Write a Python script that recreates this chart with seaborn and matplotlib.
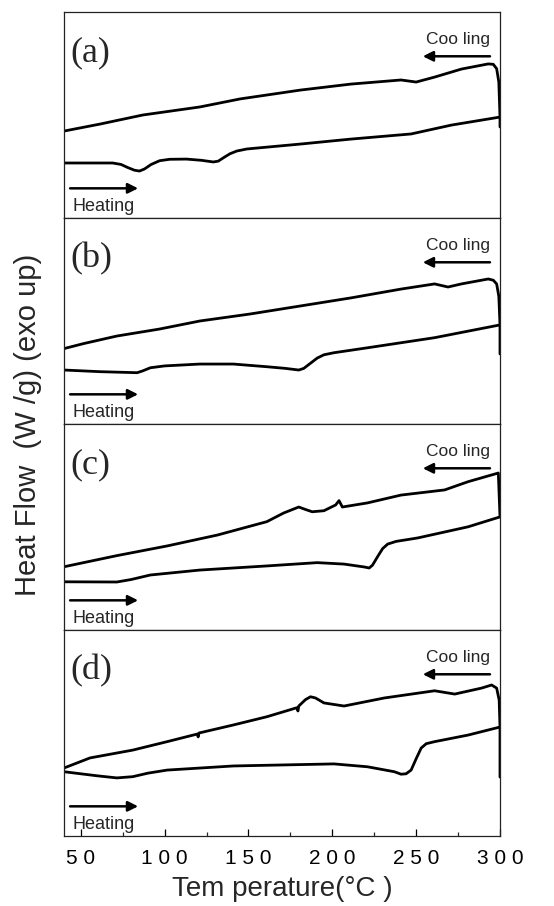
import numpy as np
import pandas as pd
import matplotlib
matplotlib.use("Agg")
import matplotlib.pyplot as plt
import seaborn as sns

# ---------------- data (heat flow, arbitrary units) ----------------
panel_labels = ["(a)", "(b)", "(c)", "(d)"]

# (a)
a_heat_T = [40, 69, 74, 78, 82, 85, 88, 92, 97, 103, 113, 122, 129, 132, 135, 139, 143, 149, 181, 211, 247, 271, 300, 300]
a_heat_v = [2.67, 2.67, 2.60, 2.45, 2.32, 2.28, 2.38, 2.60, 2.78, 2.85, 2.86, 2.80, 2.72, 2.76, 2.92, 3.12, 3.25, 3.35,
            3.59, 3.83, 4.08, 4.51, 4.90, 4.42]
a_cool_T = [300, 299.3, 298, 296, 293, 277, 261, 250, 241, 211, 181, 145, 121, 87, 61.5, 40]
a_cool_v = [4.90, 6.60, 7.25, 7.46, 7.48, 7.23, 6.84, 6.60, 6.70, 6.50, 6.21, 5.78, 5.39, 5.00, 4.56, 4.22]

# (b)
b_heat_T = [40, 61.5, 83.6, 87, 91.5, 100, 121, 141, 161, 172, 180, 183, 187, 191, 195, 201, 221, 261, 300, 300]
b_heat_v = [2.62, 2.54, 2.49, 2.58, 2.73, 2.82, 2.91, 2.91, 2.78, 2.70, 2.62, 2.70, 2.95, 3.20, 3.36, 3.46, 3.70, 4.19,
            4.81, 3.40]
b_cool_T = [300, 299.3, 298, 296, 293, 277, 269, 261, 241, 211, 181, 151, 121, 97, 71.5, 51.5, 40]
b_cool_v = [4.81, 6.20, 6.80, 6.98, 7.04, 6.80, 6.65, 6.80, 6.55, 6.12, 5.73, 5.34, 5.00, 4.61, 4.27, 3.90, 3.66]

# (c)
c_heat_T = [40, 71.5, 80, 91.5, 121, 161, 191, 207, 219, 222, 224, 227, 230, 233, 238, 251, 281, 300]
c_heat_v = [2.34, 2.33, 2.45, 2.67, 2.91, 3.11, 3.27, 3.20, 3.06, 3.01, 3.15, 3.56, 3.95, 4.17, 4.30, 4.47, 5.01, 5.49]
c_cool_T = [300, 299, 281, 267, 241, 221, 206, 204, 202, 195, 188, 184, 180, 171, 161, 131.5, 101.5, 71.5, 40]
c_cool_v = [5.49, 7.62, 7.20, 6.80, 6.55, 6.17, 5.97, 6.28, 6.07, 5.79, 5.74, 5.85, 5.97, 5.68, 5.26, 4.61, 4.08,
            3.61, 3.07]

# (d)
d_heat_T = [40, 60, 71.5, 81, 90, 101.5, 141, 201, 221, 237, 241, 244, 247, 250, 253, 256, 261, 281, 300, 300]
d_heat_v = [3.12, 2.92, 2.82, 2.88, 3.05, 3.20, 3.40, 3.50, 3.36, 3.12, 3.00, 3.02, 3.20, 3.75, 4.27, 4.48, 4.58,
            4.90, 5.29, 2.86]
d_cool_T = [300, 299.5, 298, 295, 289, 273, 261, 231, 207, 195, 190, 187, 184, 180, 179.5, 179, 161, 141,
            120.5, 120, 119.5, 101.5, 81, 55.5, 40]
d_cool_v = [5.29, 6.60, 7.18, 7.33, 7.18, 6.89, 7.05, 6.70, 6.31, 6.46, 6.70, 6.76, 6.62, 6.31, 6.07, 6.23, 5.79,
            5.39, 5.00, 4.81, 4.95, 4.58, 4.17, 3.79, 3.30]

heating = [(a_heat_T, a_heat_v), (b_heat_T, b_heat_v), (c_heat_T, c_heat_v), (d_heat_T, d_heat_v)]
cooling = [(a_cool_T, a_cool_v), (b_cool_T, b_cool_v), (c_cool_T, c_cool_v), (d_cool_T, d_cool_v)]

x_ticks = [50, 100, 150, 200, 250, 300]
x_minor = [75, 125, 175, 225, 275]
x_ticklabels = ["5 0", "1 0 0", "1 5 0", "2 0 0", "2 5 0", "3 0 0"]

# ---------------- figure ----------------
sns.set_theme(style="white")
plt.rcParams["font.family"] = ["Liberation Sans", "DejaVu Sans"]

fig = plt.figure(figsize=(5.54, 9.06), dpi=100)
left, right = 64 / 554, 500 / 554
bottom, top = 1 - 836 / 906, 1 - 12 / 906
gs = fig.add_gridspec(4, 1, left=left, right=right, bottom=bottom, top=top, hspace=0)

for i in range(4):
    ax = fig.add_subplot(gs[i, 0])
    hT, hv = heating[i]
    cT, cv = cooling[i]
    dfh = pd.DataFrame({"T": hT, "v": hv})
    dfc = pd.DataFrame({"T": cT, "v": cv})
    sns.lineplot(data=dfh, x="T", y="v", sort=False, estimator=None, color="black", lw=2.0, ax=ax)
    sns.lineplot(data=dfc, x="T", y="v", sort=False, estimator=None, color="black", lw=2.0, ax=ax)
    for ln in ax.lines:
        ln.set_solid_joinstyle("round")
        ln.set_solid_capstyle("round")
    ax.set_xlim(40, 300)
    ax.set_ylim(0, 10)
    ax.set_yticks([])
    ax.set_ylabel("")
    ax.set_xlabel("")
    for s in ax.spines.values():
        s.set_color("#222222")
        s.set_linewidth(0.9)

    ax.text(0.015, 0.80, panel_labels[i], transform=ax.transAxes, ha="left", va="center",
            fontsize=26, family=["Liberation Serif", "DejaVu Serif"])
    # Cooling arrow & text
    ax.text(0.977, 0.868, "Coo ling", transform=ax.transAxes, ha="right", va="center", fontsize=12.5)
    ax.annotate("", xy=(0.823, 0.785), xytext=(0.977, 0.785), xycoords="axes fraction",
                arrowprops=dict(arrowstyle="-|>", lw=1.8, color="black", mutation_scale=15,
                                shrinkA=0, shrinkB=0))
    # Heating arrow & text
    ax.annotate("", xy=(0.17, 0.144), xytext=(0.014, 0.144), xycoords="axes fraction",
                arrowprops=dict(arrowstyle="-|>", lw=1.8, color="black", mutation_scale=15,
                                shrinkA=0, shrinkB=0))
    ax.text(0.02, 0.055, "Heating", transform=ax.transAxes, ha="left", va="center", fontsize=13)

    if i < 3:
        ax.set_xticks([])
    else:
        ax.set_xticks(x_ticks)
        ax.set_xticks(x_minor, minor=True)
        ax.set_xticklabels(x_ticklabels, fontsize=15)
        ax.tick_params(axis="x", which="major", direction="in", length=5, width=0.9, bottom=True,
                       pad=9, colors="black")
        ax.tick_params(axis="x", which="minor", direction="in", length=3, width=0.9, bottom=True)
        ax.set_xlabel("Tem perature(°C )", fontsize=20, labelpad=6)

fig.text(28 / 554, 1 - 425 / 906, "Heat Flow  (W /g) (exo up)", rotation=90, ha="center", va="center",
         fontsize=21)

fig.savefig("out.png", dpi=100, facecolor="white")
